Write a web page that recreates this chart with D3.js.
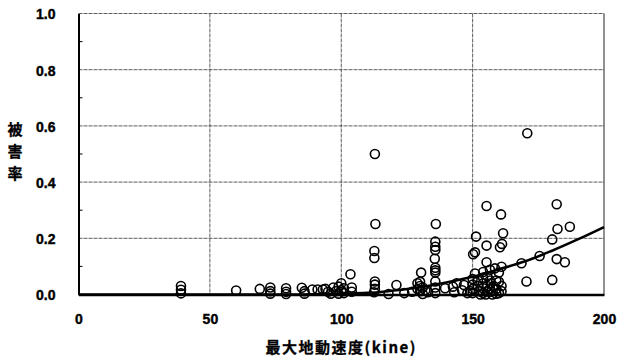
<!DOCTYPE html>
<html>
<head>
<meta charset="utf-8">
<script src="https://cdn.jsdelivr.net/npm/d3@7"></script>
<style>
  html, body { margin: 0; padding: 0; background: #fff; }
  svg { display: block; }
  .tick-label { font-family: "Liberation Sans", Arial, sans-serif; font-weight: bold; font-size: 14px; fill: #000; stroke: #000; stroke-width: 0.4px; }
  .axis-title { font-family: "Noto Sans CJK JP", sans-serif; font-weight: bold; font-size: 15px; fill: #000; stroke: #000; stroke-width: 0.3px; }
</style>
</head>
<body>
<svg id="chart" width="619" height="359"></svg>
<script>
// Observed damage rate against peak ground velocity (kine)
const pgv = [
  39, 39, 39,
  60, 69, 73, 73, 73, 79, 79, 79, 85, 86, 86,
  89, 91, 93, 94, 95, 96, 97, 98, 99, 99, 100, 100, 101, 101,
  103.5, 104, 104,
  112.8, 113, 112.6, 112.6, 112.8, 112.8, 112.8, 112.5,
  118, 121, 124, 127,
  129, 129, 130, 130.4, 130, 130, 131, 131, 132, 133,
  136, 135.8, 135.8, 135.8, 135.6, 135.8, 135.8, 135.8, 135.8, 135.8, 135.8,
  139.5, 142.5, 143.9, 143, 146.7, 146, 148,
  151.3, 150.9, 150.2, 150.9, 150, 150, 150, 150, 149,
  152, 152, 152.5, 153,
  155.3, 155.3, 155.3, 154, 154, 154, 154, 154,
  155.6, 155.6, 155.6, 155,
  156.6, 156.6, 156.6, 157, 157, 157.5, 158.5, 158, 159, 159, 159,
  160.8, 160.4, 161.2, 161.6, 161, 160, 160, 160, 161, 161,
  168.6, 170.8, 170.5, 175.5, 180.3, 180.3, 182, 182.3, 182, 185.1, 187
];
const damageRate = [
  0.030, 0.017, 0.004,
  0.014, 0.020, 0.025, 0.012, 0.003, 0.022, 0.010, 0.002, 0.024, 0.012, 0.003,
  0.018, 0.018, 0.018, 0.020, 0.010, 0.003, 0.025, 0.012, 0.028, 0.003, 0.040, 0.015, 0.022, 0.005,
  0.072, 0.010, 0.025,
  0.500, 0.251, 0.155, 0.130, 0.046, 0.035, 0.020, 0.008,
  0.002, 0.034, 0.005, 0.010,
  0.020, 0.040, 0.030, 0.078, 0.045, 0.012, 0.002, 0.025, 0.015, 0.008,
  0.251, 0.188, 0.170, 0.158, 0.127, 0.095, 0.086, 0.078, 0.046, 0.025, 0.005,
  0.022, 0.028, 0.040, 0.008, 0.034, 0.015, 0.005,
  0.206, 0.150, 0.143, 0.075, 0.055, 0.035, 0.020, 0.005, 0.012,
  0.050, 0.030, 0.012, 0.000,
  0.315, 0.174, 0.115, 0.080, 0.060, 0.040, 0.022, 0.005,
  0.065, 0.030, 0.012, 0.000,
  0.088, 0.050, 0.020, 0.040, 0.010, 0.000, 0.093, 0.030, 0.050, 0.020, 0.003,
  0.285, 0.168, 0.180, 0.218, 0.099, 0.078, 0.045, 0.005, 0.030, 0.012,
  0.111, 0.574, 0.046, 0.137, 0.196, 0.052, 0.321, 0.233, 0.126, 0.115, 0.241
];

// Fitted damage curve
const curvePGV  = [0, 80, 90, 100, 110, 115, 120, 130, 140, 150, 160, 170, 180, 190, 200];
const curveRate = [0, 0, 0.001, 0.003, 0.006, 0.009, 0.014, 0.026, 0.043, 0.063, 0.090, 0.118, 0.155, 0.196, 0.240];

const xTicks = [0, 50, 100, 150, 200];
const yTicks = [0, 0.2, 0.4, 0.6, 0.8, 1.0];
const yMinorTicks = [0.1, 0.3, 0.5, 0.7, 0.9];

const svg = d3.select("#chart");
const plotLeft = 78.5, plotRight = 604, plotTop = 13.5, plotBottom = 294.5;

const x = d3.scaleLinear().domain([0, 200]).range([plotLeft, plotRight]);
const y = d3.scaleLinear().domain([0, 1]).range([plotBottom, plotTop]);

// Grid lines
const grid = svg.append("g");
grid.selectAll("line.hg").data(yTicks.filter(d => d > 0)).join("line")
  .attr("x1", plotLeft).attr("x2", plotRight)
  .attr("y1", d => y(d)).attr("y2", d => y(d))
  .attr("stroke", "#333").attr("stroke-width", 0.8).attr("stroke-dasharray", "4,1");
grid.selectAll("line.vg").data(xTicks.filter(d => d > 0 && d < 200)).join("line")
  .attr("x1", d => x(d)).attr("x2", d => x(d))
  .attr("y1", plotTop).attr("y2", plotBottom)
  .attr("stroke", "#333").attr("stroke-width", 0.8).attr("stroke-dasharray", "4,1");

// Right border
svg.append("line").attr("x1", x(200)).attr("x2", x(200)).attr("y1", plotTop).attr("y2", plotBottom)
  .attr("stroke", "#222").attr("stroke-width", 1);

// Y axis
const yAxis = d3.axisLeft(y).tickValues(yTicks).tickSize(0).tickFormat(d3.format(".1f"));
const gy = svg.append("g").attr("transform", `translate(${plotLeft},0)`).call(yAxis);
gy.select(".domain").attr("stroke", "#000").attr("stroke-width", 2);
gy.selectAll("text").attr("class", "tick-label").attr("x", -23).attr("dy", "0.38em");
// inward minor ticks
svg.append("g").selectAll("line").data(yMinorTicks).join("line")
  .attr("x1", plotLeft).attr("x2", plotLeft + 4)
  .attr("y1", d => y(d)).attr("y2", d => y(d))
  .attr("stroke", "#000").attr("stroke-width", 1);

// X axis
const xAxis = d3.axisBottom(x).tickValues(xTicks).tickSize(0).tickFormat(d3.format("d"));
const gx = svg.append("g").attr("transform", `translate(0,${plotBottom})`).call(xAxis);
gx.select(".domain").attr("stroke", "#000").attr("stroke-width", 2.6);
gx.selectAll("text").attr("class", "tick-label").attr("y", 20).attr("dy", "0.71em");

// Fitted curve
const line = d3.line().x(d => x(d[0])).y(d => y(d[1])).curve(d3.curveMonotoneX);
svg.append("path")
  .datum(curvePGV.map((v, i) => [v, curveRate[i]]))
  .attr("d", line)
  .attr("fill", "none").attr("stroke", "#000").attr("stroke-width", 2.6);

// Observations
svg.append("g").selectAll("circle").data(pgv.map((v, i) => [v, damageRate[i]])).join("circle")
  .attr("cx", d => x(d[0])).attr("cy", d => y(d[1]))
  .attr("r", 4.5)
  .attr("fill", "none").attr("stroke", "#000").attr("stroke-width", 1.6);

// Axis titles
svg.append("text").attr("class", "axis-title")
  .attr("x", (plotLeft + plotRight) / 2).attr("y", 353)
  .attr("text-anchor", "middle").attr("letter-spacing", "1.5px")
  .text("最大地動速度(kine)");

const yTitle = svg.append("text").attr("class", "axis-title").attr("text-anchor", "middle");
["被", "害", "率"].forEach((ch, i) => {
  yTitle.append("tspan").attr("x", 15).attr("y", 135 + i * 22).text(ch);
});
</script>
</body>
</html>
